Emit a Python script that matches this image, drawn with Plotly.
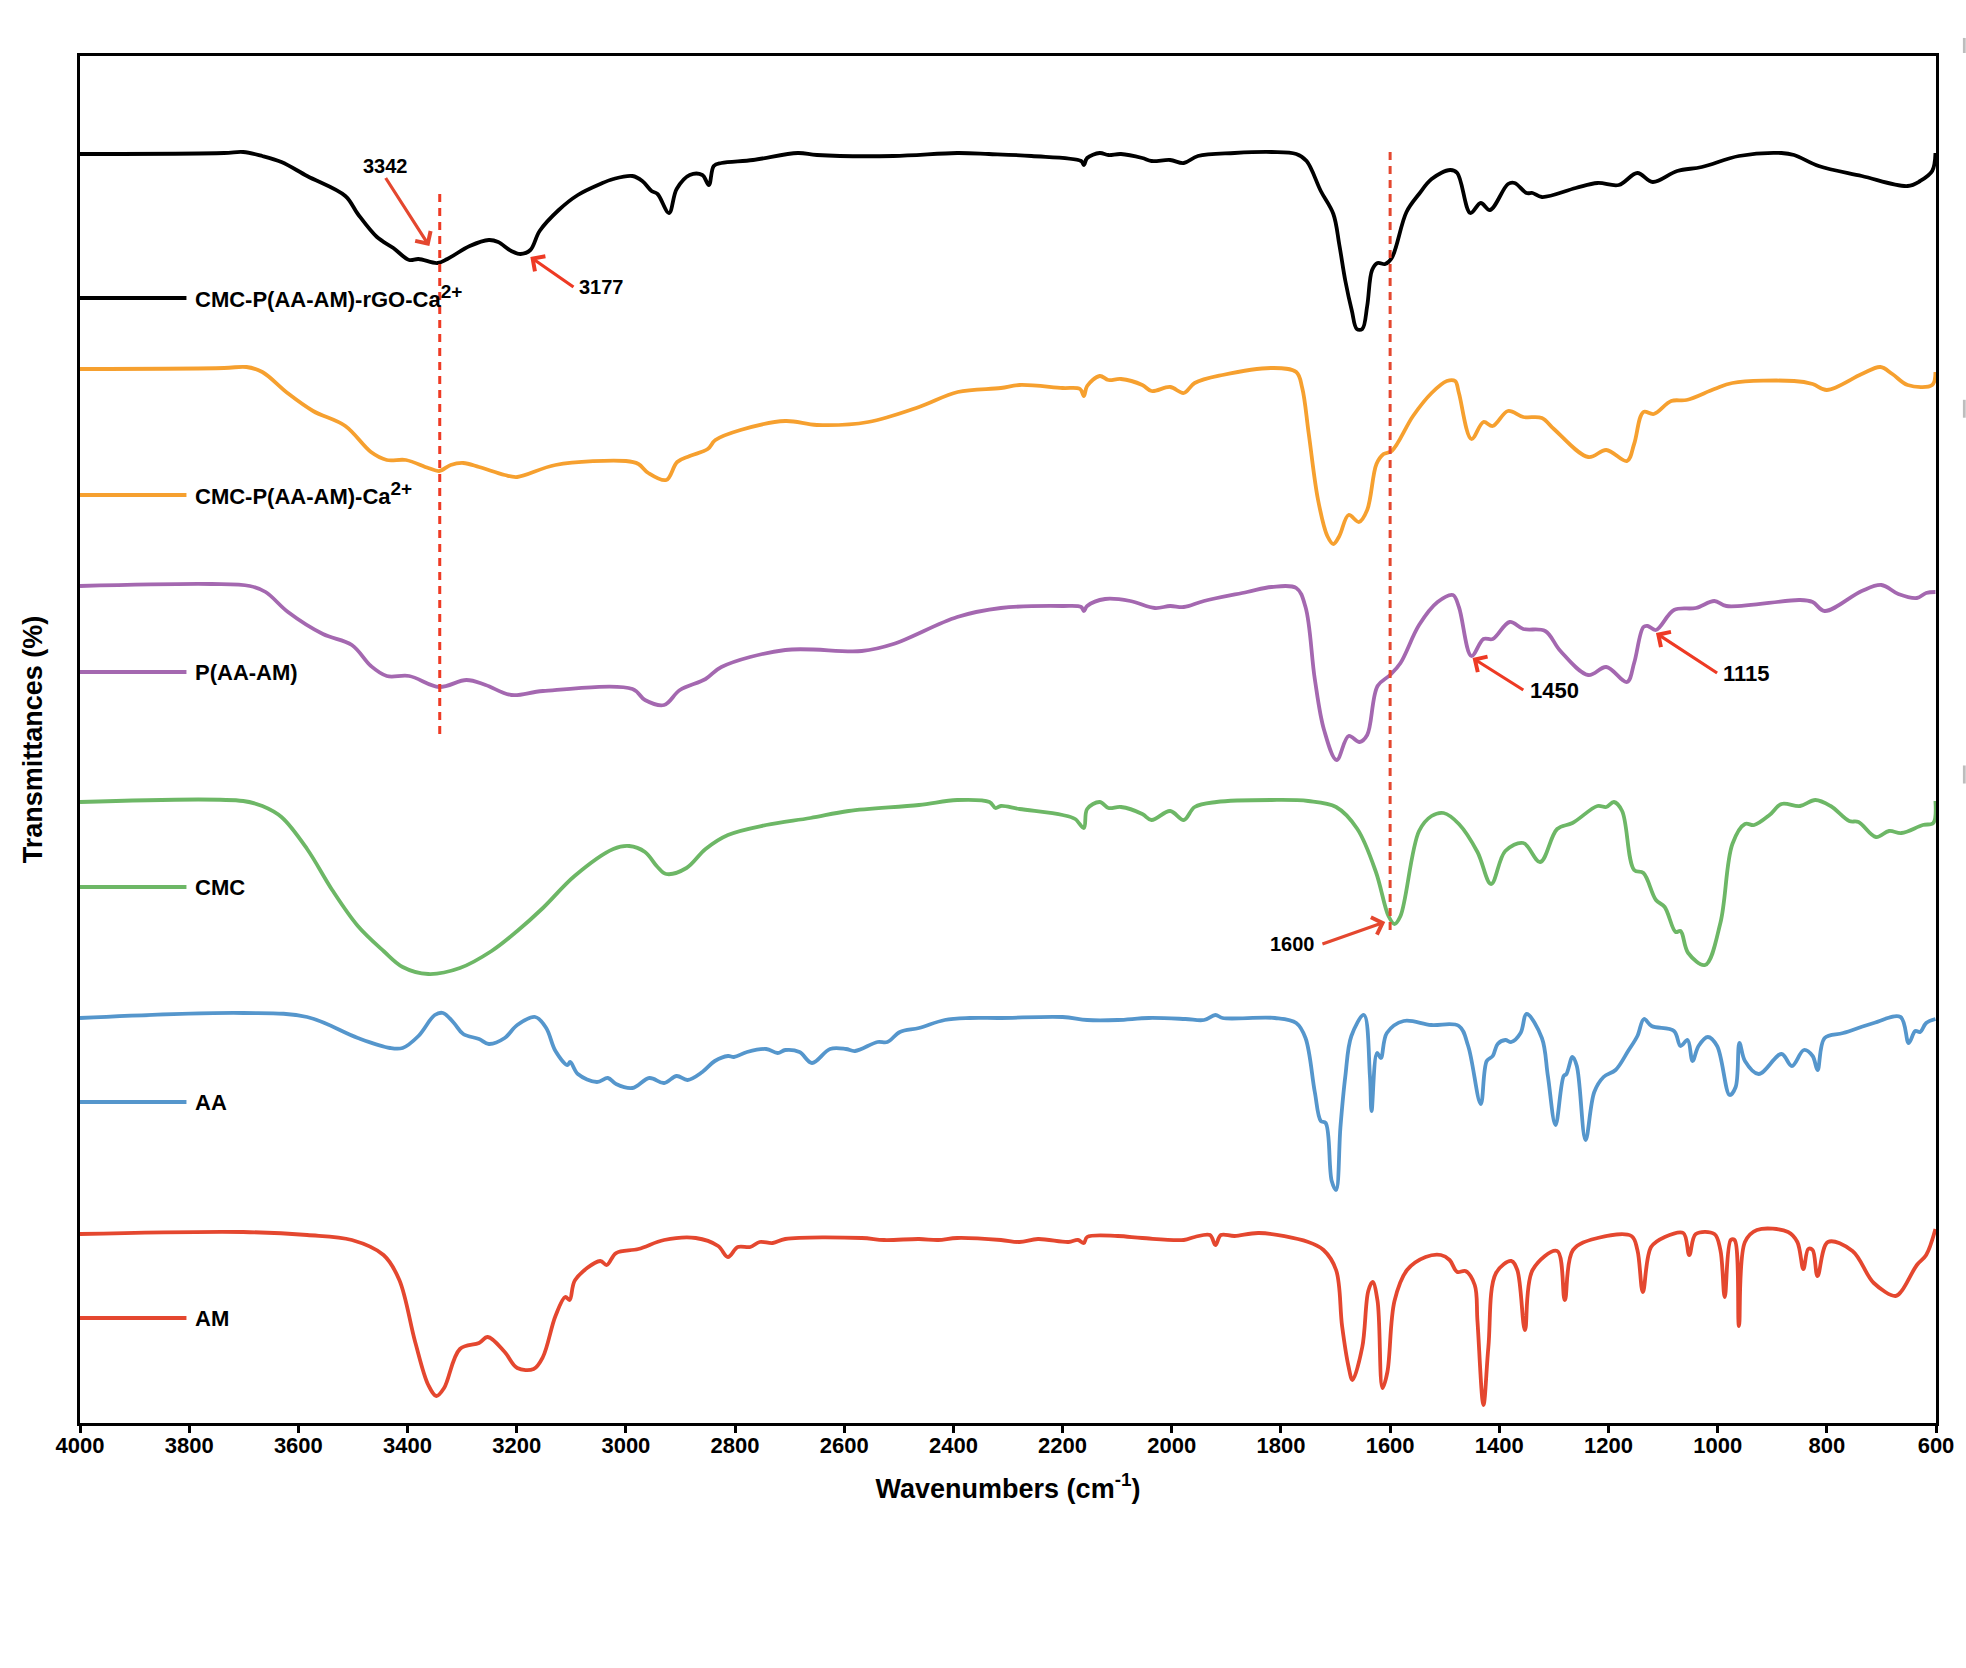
import plotly.graph_objects as go

# spectra, offset units (0 = bottom of the frame)
wn_black = [4000, 3736, 3701, 3666, 3631, 3584, 3514, 3491, 3456, 3426, 3397, 3380, 3345, 3327, 3286, 3251, 3234, 3210, 3193, 3175,
            3158, 3123, 3088, 3047, 3023, 2988, 2970, 2953, 2942, 2921, 2907, 2883, 2860, 2848, 2839, 2825, 2767, 2685, 2650, 2510, 2393,
            2335, 2257, 2166, 2161, 2155, 2132, 2116, 2093, 2054, 2037, 2003, 1978, 1952, 1885, 1817, 1772, 1753, 1727, 1704, 1693,
            1682, 1670, 1661, 1651, 1642, 1633, 1623, 1609, 1597, 1570, 1547, 1524, 1490, 1477, 1453, 1434, 1417, 1384, 1372, 1350,
            1339, 1322, 1260, 1220, 1181, 1147, 1119, 1074, 1029, 961, 883, 860, 815, 736, 652, 629, 607, 601]
t_black = [1269, 1270, 1271, 1267, 1261, 1247, 1227, 1209, 1186, 1175, 1163, 1164, 1160, 1164, 1177, 1183, 1181, 1172, 1169, 1173,
           1192, 1213, 1228, 1239, 1244, 1247, 1242, 1232, 1229, 1210, 1234, 1248, 1248, 1238, 1257, 1260, 1263, 1270, 1268, 1267, 1270,
           1269, 1267, 1262, 1258, 1265, 1270, 1268, 1269, 1265, 1262, 1263, 1260, 1267, 1270, 1271, 1269, 1262, 1232, 1209, 1178,
           1142, 1112, 1094, 1094, 1117, 1153, 1160, 1159, 1165, 1211, 1229, 1244, 1253, 1250, 1210, 1220, 1213, 1239, 1240, 1230,
           1230, 1226, 1235, 1240, 1238, 1250, 1241, 1252, 1256, 1267, 1270, 1268, 1257, 1247, 1237, 1242, 1252, 1270]

wn_orange = [4000, 3736, 3695, 3666, 3620, 3573, 3514, 3467, 3438, 3403, 3362, 3342, 3321, 3298, 3269, 3222, 3199, 3129, 3000, 2977,
             2959, 2926, 2906, 2883, 2850, 2836, 2790, 2708, 2650, 2556, 2463, 2392, 2313, 2279, 2200, 2168, 2161, 2155, 2132, 2116,
             2093, 2054, 2037, 2003, 1978, 1958, 1907, 1817, 1772, 1761, 1749, 1732, 1715, 1704, 1693, 1676, 1657, 1642, 1625, 1612,
             1597, 1558, 1524, 1496, 1481, 1474, 1451, 1429, 1412, 1384, 1356, 1322, 1300, 1237, 1204, 1166, 1153, 1136, 1117, 1085,
             1057, 1006, 973, 860, 826, 800, 736, 702, 680, 652, 607, 601]
t_orange = [1054, 1055, 1056, 1051, 1030, 1012, 997, 971, 963, 963, 955, 952, 958, 960, 956, 948, 946, 958, 962, 959,
            950, 943, 961, 967, 974, 983, 993, 1002, 998, 1001, 1016, 1031, 1035, 1038, 1035, 1034, 1027, 1037, 1047, 1043,
            1044, 1038, 1032, 1036, 1030, 1040, 1048, 1055, 1051, 1035, 989, 923, 887, 879, 887, 908, 901, 913, 959, 969,
            972, 1007, 1030, 1042, 1042, 1030, 984, 1001, 997, 1012, 1006, 1005, 994, 966, 973, 962, 979, 1011, 1009, 1022,
            1023, 1034, 1040, 1042, 1039, 1033, 1049, 1056, 1049, 1038, 1038, 1051]

wn_purple = [4000, 3759, 3689, 3660, 3619, 3555, 3502, 3467, 3438, 3397, 3342, 3292, 3257, 3210, 3152, 2988, 2965, 2930, 2901, 2854,
             2825, 2708, 2568, 2510, 2393, 2313, 2200, 2166, 2161, 2155, 2122, 2076, 2031, 2003, 1978, 1941, 1862, 1817, 1772, 1755,
             1738, 1721, 1698, 1676, 1656, 1642, 1623, 1600, 1581, 1547, 1513, 1485, 1474, 1451, 1429, 1412, 1381, 1356, 1316, 1288,
             1237, 1204, 1166, 1153, 1136, 1128, 1113, 1080, 1040, 1006, 984, 849, 826, 804, 736, 700, 669, 635, 618, 601]
t_purple = [837, 839, 837, 831, 811, 789, 778, 757, 747, 747, 736, 743, 738, 728, 732, 734, 723, 718, 733, 744,
            756, 773, 772, 779, 806, 815, 817, 816, 812, 817, 824, 822, 815, 817, 816, 822, 831, 836, 835, 816,
            744, 693, 663, 687, 681, 688, 737, 748, 760, 798, 821, 828, 816, 767, 784, 784, 801, 794, 792, 772,
            748, 756, 741, 760, 796, 797, 793, 813, 815, 822, 817, 823, 821, 812, 832, 838, 829, 825, 830, 831]

wn_green = [4000, 3701, 3666, 3631, 3584, 3538, 3491, 3444, 3409, 3362, 3304, 3246, 3199, 3152, 3094, 3023, 2994, 2965, 2942, 2926,
            2889, 2854, 2813, 2743, 2662, 2592, 2463, 2393, 2334, 2323, 2313, 2279, 2200, 2177, 2161, 2155, 2132, 2116, 2093, 2054,
            2037, 2003, 1978, 1958, 1918, 1817, 1750, 1699, 1660, 1626, 1603, 1592, 1581, 1547, 1524, 1502, 1474, 1440, 1415, 1389,
            1356, 1325, 1294, 1266, 1220, 1204, 1190, 1175, 1153, 1136, 1113, 1097, 1077, 1068, 1054, 1023, 995, 973, 950, 933,
            905, 883, 849, 821, 793, 759, 742, 710, 686, 663, 624, 605, 601]
t_green = [621, 622, 617, 606, 574, 533, 497, 472, 456, 449, 455, 472, 492, 515, 547, 574, 577, 571, 556, 549,
           555, 574, 588, 598, 605, 612, 618, 623, 621, 615, 617, 614, 608, 604, 595, 614, 621, 615, 616, 609,
           603, 612, 603, 616, 621, 623, 622, 616, 594, 551, 507, 499, 507, 592, 607, 610, 599, 571, 539, 572,
           580, 561, 594, 600, 617, 616, 621, 612, 553, 550, 523, 516, 491, 492, 470, 458, 500, 579, 599, 598,
           608, 619, 617, 623, 617, 602, 601, 586, 592, 590, 598, 600, 622]

wn_blue = [4000, 3701, 3584, 3491, 3432, 3409, 3380, 3350, 3335, 3315, 3298, 3269, 3251, 3222, 3199, 3166, 3146, 3129, 3107, 3102,
           3088, 3053, 3033, 3018, 2988, 2957, 2930, 2907, 2887, 2860, 2837, 2813, 2802, 2778, 2743, 2722, 2708, 2682, 2659, 2626,
           2597, 2580, 2539, 2521, 2498, 2463, 2416, 2370, 2313, 2200, 2155, 2099, 2042, 1975, 1941, 1920, 1907, 1811, 1772, 1755,
           1738, 1727, 1718, 1707, 1699, 1691, 1682, 1671, 1648, 1637, 1634, 1624, 1617, 1606, 1575, 1525, 1474, 1457, 1434, 1423,
           1412, 1403, 1389, 1378, 1361, 1350, 1322, 1311, 1297, 1282, 1277, 1266, 1258, 1242, 1226, 1209, 1187, 1164, 1147, 1135,
           1121, 1080, 1068, 1055, 1046, 1035, 1018, 1001, 978, 967, 960, 950, 925, 883, 864, 842, 826, 817, 804, 770,
           714, 665, 650, 638, 629, 618, 601]
t_blue = [405, 410, 406, 385, 375, 375, 387, 408, 410, 400, 389, 384, 379, 385, 398, 406, 395, 372, 358, 361,
          349, 341, 345, 339, 335, 345, 340, 347, 343, 351, 362, 367, 366, 371, 374, 370, 373, 371, 360, 374,
          374, 372, 381, 381, 391, 395, 403, 405, 405, 406, 403, 403, 405, 404, 403, 408, 405, 405, 400, 385,
          331, 302, 300, 242, 233, 296, 347, 387, 408, 347, 312, 370, 365, 390, 402, 398, 397, 377, 319, 362,
          367, 379, 383, 381, 390, 409, 385, 347, 298, 347, 349, 366, 357, 283, 331, 346, 353, 372, 387, 404,
          397, 392, 377, 383, 362, 377, 386, 377, 328, 336, 380, 362, 349, 369, 357, 373, 367, 353, 385, 390,
          400, 406, 380, 392, 391, 400, 404]

wn_red = [4000, 3701, 3584, 3502, 3444, 3415, 3386, 3362, 3347, 3333, 3304, 3269, 3253, 3222, 3199, 3169, 3152, 3129, 3111, 3103,
          3093, 3047, 3035, 3018, 2977, 2930, 2872, 2831, 2813, 2795, 2772, 2755, 2731, 2708, 2568, 2527, 2463, 2428, 2393, 2313,
          2279, 2245, 2189, 2172, 2161, 2155, 2099, 2054, 1978, 1958, 1930, 1920, 1910, 1885, 1840, 1750, 1722, 1699, 1688, 1676,
          1669, 1651, 1640, 1632, 1623, 1614, 1605, 1592, 1569, 1535, 1507, 1491, 1477, 1462, 1445, 1440, 1429, 1420, 1406, 1378,
          1367, 1353, 1339, 1294, 1280, 1265, 1220, 1158, 1147, 1137, 1122, 1097, 1063, 1052, 1040, 1006, 995, 987, 976, 969,
          961, 950, 928, 871, 854, 843, 834, 826, 817, 798, 753, 714, 674, 663, 635, 618, 601]
t_red = [189, 191, 188, 183, 168, 143, 81, 38, 27, 35, 74, 80, 86, 71, 55, 54, 66, 107, 126, 123,
         143, 162, 158, 170, 174, 183, 185, 177, 166, 176, 176, 181, 180, 184, 185, 183, 184, 183, 185, 183,
         181, 184, 181, 183, 180, 186, 187, 185, 183, 186, 188, 178, 188, 187, 190, 181, 173, 153, 97, 56,
         43, 76, 132, 141, 122, 35, 51, 122, 153, 166, 168, 163, 151, 152, 138, 102, 18, 76, 150, 162,
         153, 93, 153, 172, 123, 173, 185, 187, 173, 131, 176, 186, 190, 168, 189, 189, 173, 126, 183, 183,
         97, 181, 193, 191, 181, 154, 174, 173, 147, 181, 172, 140, 127, 132, 158, 168, 194]

# the superscript in the key labels is larger than plotly's default
sup = '<sup><span style="font-size:19px">2+</span></sup>'

series = [
    ("CMC-P(AA-AM)-rGO-Ca" + sup, wn_black, t_black, "#000000", 1125),
    ("CMC-P(AA-AM)-Ca" + sup, wn_orange, t_orange, "#F6A02F", 928),
    ("P(AA-AM)", wn_purple, t_purple, "#A468B0", 751),
    ("CMC", wn_green, t_green, "#6DB766", 536),
    ("AA", wn_blue, t_blue, "#5596CC", 321),
    ("AM", wn_red, t_red, "#E4472F", 105),
]

red = "#EE3A24"
red2 = "#E4472F"
font_name = "Liberation Sans"

fig = go.Figure()

for name, wn, t, color, key_y in series:
    fig.add_trace(go.Scatter(x=wn, y=t, mode="lines", name=name, showlegend=False,
                             line=dict(color=color, width=3.8, shape="spline", smoothing=1.0)))
    # legend sits inline with the curves, hugging the left axis
    fig.add_trace(go.Scatter(x=[4000, 3805], y=[key_y, key_y], mode="lines", showlegend=False,
                             line=dict(color=color, width=3.8)))
    fig.add_annotation(x=3793, y=key_y, text="<b>%s</b>" % name, showarrow=False, xanchor="left",
                       yshift=2 if "sup" in name else 0,
                       font=dict(family=font_name, size=22, color="black"))

# dashed guides
fig.add_trace(go.Scatter(x=[3341, 3341], y=[1229, 684], mode="lines", showlegend=False,
                         line=dict(color=red, width=3, dash="8px,6px")))
fig.add_trace(go.Scatter(x=[1600, 1600], y=[1271, 488], mode="lines", showlegend=False,
                         line=dict(color=red2, width=3, dash="8px,6px")))

# peak call-outs: the label hangs off the arrow tail
peak_labels = ["3342", "3177", "1450", "1115", "1600"]
tail_x = [3440, 3096, 1356, 1001, 1724]
tail_y = [1245, 1136, 733, 750, 479]
head_x = [3360, 3175, 1449, 1113, 1609]
head_y = [1177, 1166, 765, 790, 501]
label_size = [20, 20, 22, 22, 20]
anchor_x = ["center", "left", "left", "left", "right"]
anchor_y = ["bottom", "middle", "middle", "middle", "middle"]
pad = [0, 5, 6, 5, 6]
arrow_color = [red2, red, red, red, red2]

for i in range(len(peak_labels)):
    fig.add_annotation(x=head_x[i], y=head_y[i], ax=tail_x[i], ay=tail_y[i], axref="x", ayref="y",
                       text="<b>%s</b>" % peak_labels[i], xanchor=anchor_x[i], yanchor=anchor_y[i],
                       borderpad=pad[i], showarrow=True, arrowhead=4, arrowsize=1.1, arrowwidth=3.2,
                       arrowcolor=arrow_color[i],
                       font=dict(family=font_name, size=label_size[i], color="black"))

fig.update_layout(
    width=1966,
    height=1668,
    margin=dict(l=80, r=30, t=56, b=245),
    template="plotly_white",
    paper_bgcolor="white",
    plot_bgcolor="white",
    showlegend=False,
    font=dict(family=font_name, color="black"),
)

# grey stubs cut off by the right edge of the figure
for top, bottom in [(1.0132, 1.0022), (0.7485, 0.7354), (0.4810, 0.4678)]:
    fig.add_shape(type="rect", xref="paper", yref="paper", x0=1.0145, x1=1.016, y0=bottom, y1=top,
                  fillcolor="#BDBDBD", line_width=0)

fig.update_xaxes(
    range=[4000, 600],
    tickvals=list(range(4000, 500, -200)),
    ticks="outside",
    ticklen=7,
    tickwidth=3,
    tickcolor="black",
    ticklabelstandoff=-6,
    tickfont=dict(family=font_name, size=22, color="black", weight="bold"),
    showgrid=False,
    zeroline=False,
    showline=True,
    linecolor="black",
    linewidth=3,
    mirror=True,
    title=dict(text="<b>Wavenumbers (cm<sup>-1</sup>)</b>", font=dict(family=font_name, size=27), standoff=22),
)

fig.update_yaxes(
    range=[0, 1367],
    showticklabels=False,
    ticks="",
    showgrid=False,
    zeroline=False,
    showline=True,
    linecolor="black",
    linewidth=3,
    mirror=True,
    title=dict(text="<b>Transmittances (%)</b>", font=dict(family=font_name, size=27), standoff=27),
)

fig.write_html("out.html", config={"displayModeBar": False}, post_script="document.body.style.margin='0';")
